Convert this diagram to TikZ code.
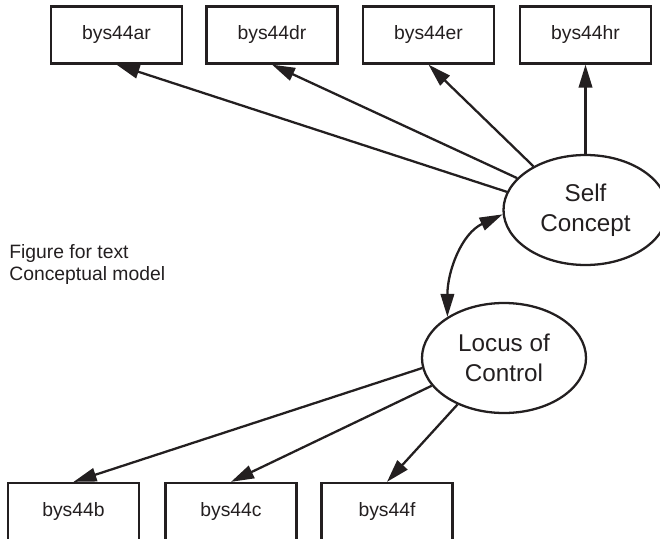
\documentclass[tikz,border=0pt]{standalone}
\usepackage{fontspec}
\setmainfont{Liberation Sans}
\usetikzlibrary{shapes.geometric, arrows.meta}
\definecolor{inkgray}{RGB}{35, 31, 32}

\tikzset{
  obsbox/.style={draw=inkgray, line width=1.3pt, text=inkgray, minimum width=2.62cm,
    minimum height=1.14cm, font=\fontsize{11}{13}\selectfont},
  latent/.style={ellipse, draw=inkgray, line width=1.3pt, text=inkgray, minimum width=3.28cm,
    minimum height=2.2cm, inner sep=0pt, align=center, font=\fontsize{13.8}{17}\selectfont},
  link/.style={draw=inkgray, line width=1.3pt, -{Triangle[length=0.46cm, width=0.27cm]}},
  corr/.style={link, {Triangle[length=0.46cm, width=0.27cm]}-{Triangle[length=0.46cm, width=0.27cm]}}
}

\begin{document}
\begin{tikzpicture}
  \useasboundingbox (0, 0) rectangle (13.2, 10.76);

  % indicator boxes, top row
  \node[obsbox] (ar) at (2.33, 10.06) {bys44ar};
  \node[obsbox] (dr) at (5.44, 10.06) {bys44dr};
  \node[obsbox] (er) at (8.57, 10.06) {bys44er};
  \node[obsbox] (hr) at (11.71, 10.06) {bys44hr};

  % indicator boxes, bottom row (cut off by the page edge)
  \node[obsbox] (b) at (1.47, 0.53) {bys44b};
  \node[obsbox] (c) at (4.62, 0.53) {bys44c};
  \node[obsbox] (f) at (7.74, 0.53) {bys44f};

  % latent factors
  \node[latent] (sc) at (11.71, 6.56) {Self\\Concept};
  \node[latent] (loc) at (10.08, 3.60) {Locus of\\Control};

  % caption
  \node[anchor=base west, inner sep=0pt, align=left, text=inkgray,
    font=\fontsize{11}{12.5}\selectfont] (cap) at (0.18, 5.16) {Figure for text\\Conceptual model};

  % loadings
  \draw[link] (sc.167) -- (ar.south);
  \draw[link] (sc.155) -- (dr.south);
  \draw[link] (sc.140) -- (er.south);
  \draw[link] (sc.north) -- (hr.south);

  \draw[link] (loc.187) -- (b.north);
  \draw[link] (loc.201) -- (c.north);
  \draw[link] (loc.225) -- (f.north);

  % factor covariance
  \draw[corr] (sc.183) to[out=205, in=90] (loc.144);
\end{tikzpicture}
\end{document}
